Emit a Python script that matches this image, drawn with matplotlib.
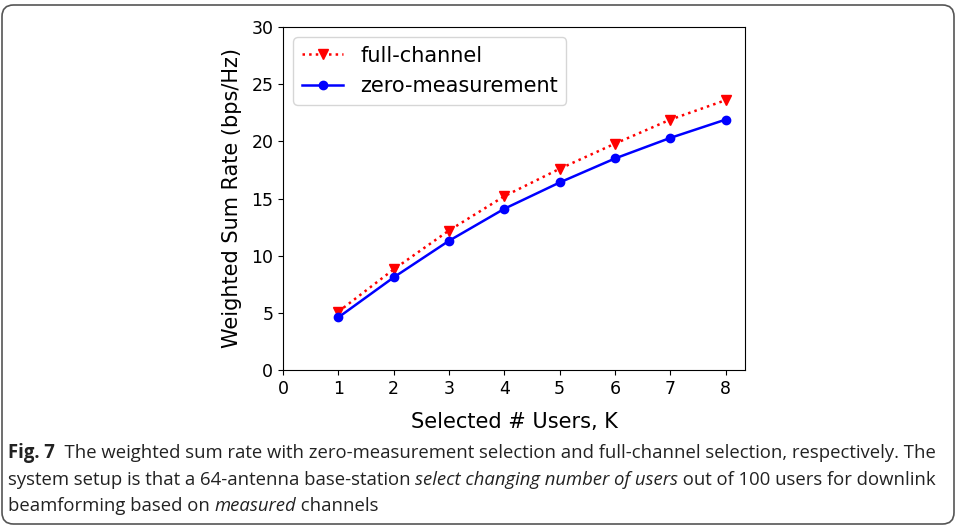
import matplotlib
matplotlib.use("Agg")
import matplotlib.pyplot as plt
from matplotlib.patches import FancyBboxPatch

users = [1, 2, 3, 4, 5, 6, 7, 8]
full_channel = [5.1, 8.8, 12.2, 15.2, 17.6, 19.8, 21.9, 23.6]
zero_measurement = [4.6, 8.1, 11.3, 14.1, 16.4, 18.5, 20.3, 21.9]

W, H = 958, 527
fig = plt.figure(figsize=(W / 100, H / 100), dpi=100)

# outer rounded frame
frame = FancyBboxPatch((2 / W, 3 / H), (954 - 2) / W, (522 - 3) / H,
                       boxstyle="round,pad=0,rounding_size=0.012",
                       transform=fig.transFigure, fill=False,
                       edgecolor="#555555", linewidth=1.2, mutation_aspect=W / H)
fig.patches.append(frame)

ax = fig.add_axes([283 / W, (H - 370) / H, (745 - 283) / W, (370 - 27) / H])
ax.plot(users, full_channel, linestyle=":", color="red", marker="v",
        markersize=6.5, linewidth=1.8, label="full-channel")
ax.plot(users, zero_measurement, linestyle="-", color="blue", marker="o",
        markersize=6, linewidth=1.8, label="zero-measurement")
ax.set_xlim(left=0)
ax.set_ylim(0, 30)
ax.set_xticks(range(0, 9))
ax.set_yticks(range(0, 31, 5))
ax.tick_params(labelsize=12.5)
ax.set_xlabel("Selected # Users, K", fontsize=15, labelpad=10)
ax.set_ylabel("Weighted Sum Rate (bps/Hz)", fontsize=15, labelpad=7)
ax.legend(loc="upper left", fontsize=15)

# caption with mixed styles
cap_font = "Open Sans"
cap_size = 13.35
lines = [
    [("Fig. 7", "bold", "normal"),
     ("  The weighted sum rate with zero-measurement selection and full-channel selection, respectively. The", "normal", "normal")],
    [("system setup is that a 64-antenna base-station ", "normal", "normal"),
     ("select changing number of users", "normal", "italic"),
     (" out of 100 users for downlink", "normal", "normal")],
    [("beamforming based on ", "normal", "normal"),
     ("measured", "normal", "italic"),
     (" channels", "normal", "normal")],
]
baselines = [458, 485, 511]
fig.canvas.draw()
renderer = fig.canvas.get_renderer()
for runs, yb in zip(lines, baselines):
    x = 8
    for txt, weight, style in runs:
        t = fig.text(x / W, (H - yb) / H, txt, fontsize=cap_size, family=cap_font,
                     weight=weight, style=style, color="#222222", va="baseline", ha="left")
        bb = t.get_window_extent(renderer)
        x = bb.x1

fig.savefig("out.png", dpi=100)
